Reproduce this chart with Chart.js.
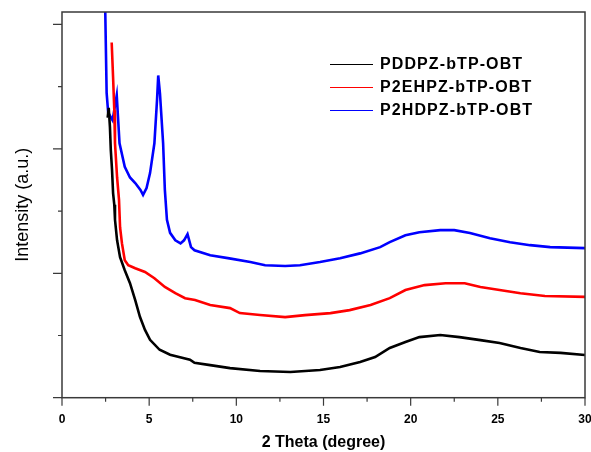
<!DOCTYPE html>
<html>
<head>
<meta charset="utf-8">
<script src="https://cdn.jsdelivr.net/npm/chart.js@4.4.1/dist/chart.umd.min.js"></script>
<style>
  html, body { margin: 0; padding: 0; background: #fff; }
  #wrap { width: 591px; height: 452px; }
</style>
</head>
<body>
<div id="wrap"><canvas id="grafico" width="591" height="452"></canvas></div>
<script>
// series names
const seriesNames = ['PDDPZ-bTP-OBT', 'P2EHPZ-bTP-OBT', 'P2HDPZ-bTP-OBT'];
const seriesColors = ['#000000', '#ff0000', '#0000ff'];

// values (2 theta, intensity)
const blackX = [2.62, 2.68, 2.75, 2.8, 2.87, 2.93, 3.0, 3.04, 3.16, 3.33, 3.6, 3.9, 4.2, 4.47, 4.76, 5.05, 5.6, 6.2, 6.77, 7.34, 7.6, 8.5, 9.64, 11.36, 13.1, 14.8, 15.95, 17.1, 17.96, 18.8, 19.7, 20.5, 21.7, 22.8, 24.0, 25.1, 26.3, 27.4, 28.6, 30];
const blackY = [2250, 2330, 2175, 1990, 1830, 1645, 1550, 1430, 1265, 1130, 1025, 920, 785, 650, 545, 465, 385, 345, 325, 305, 280, 262, 238, 214, 206, 222, 247, 287, 327, 400, 447, 487, 504, 487, 463, 440, 400, 367, 360, 343];

const redX = [2.85, 2.93, 3.0, 3.04, 3.16, 3.27, 3.33, 3.44, 3.6, 3.8, 4.2, 4.76, 5.3, 5.9, 6.5, 7.06, 7.63, 8.5, 9.64, 10.2, 11.36, 12.8, 13.94, 15.4, 16.5, 17.7, 18.8, 19.7, 20.8, 22.0, 23.1, 24.0, 25.1, 26.3, 27.7, 30];
const redY = [2855, 2575, 2310, 2045, 1770, 1590, 1370, 1240, 1105, 1065, 1040, 1010, 960, 890, 840, 800, 785, 745, 720, 680, 665, 648, 664, 680, 704, 745, 800, 865, 905, 920, 920, 890, 865, 840, 817, 810];

const blueX = [2.47, 2.56, 2.65, 2.9, 3.14, 3.3, 3.6, 3.9, 4.2, 4.5, 4.65, 4.85, 5.05, 5.3, 5.45, 5.52, 5.62, 5.8, 5.9, 6.02, 6.2, 6.5, 6.8, 7.0, 7.2, 7.4, 7.6, 8.5, 9.6, 10.8, 11.65, 12.8, 13.65, 14.8, 15.95, 17.1, 18.25, 18.8, 19.7, 20.5, 21.7, 22.5, 23.4, 24.55, 25.7, 26.85, 28.0, 30];
const blueY = [3200, 2450, 2290, 2230, 2430, 2045, 1855, 1770, 1725, 1670, 1630, 1685, 1805, 2045, 2390, 2590, 2445, 2045, 1670, 1430, 1325, 1265, 1240, 1265, 1315, 1210, 1185, 1145, 1120, 1090, 1065, 1058, 1065, 1090, 1120, 1160, 1210, 1250, 1305, 1330, 1347, 1347, 1323, 1282, 1250, 1226, 1210, 1202];

// axes
const xTicks = [0, 5, 10, 15, 20, 25, 30];
const xMinorTicks = [2.5, 7.5, 12.5, 17.5, 22.5, 27.5];
const yMajorTicks = [0, 1000, 2000, 3000];
const yMinorTicks = [500, 1500, 2500];

const FONTE = "'Liberation Sans', Arial, sans-serif";

function pontos(xs, ys) {
  return xs.map((x, i) => ({ x: x, y: ys[i] }));
}

// frame, tick marks and legend drawn over the chart
const molduraPlugin = {
  id: 'moldura',
  afterDraw(chart) {
    const ctx = chart.ctx;
    const a = chart.chartArea;
    const sx = chart.scales.x;
    const sy = chart.scales.y;
    ctx.save();
    ctx.strokeStyle = '#3a3a3a';
    ctx.lineWidth = 1.5;
    ctx.strokeRect(a.left, a.top, a.right - a.left, a.bottom - a.top);

    ctx.lineWidth = 1.2;
    ctx.beginPath();
    xTicks.forEach(v => {
      const px = sx.getPixelForValue(v);
      ctx.moveTo(px, a.bottom); ctx.lineTo(px, a.bottom + 8);
    });
    xMinorTicks.forEach(v => {
      const px = sx.getPixelForValue(v);
      ctx.moveTo(px, a.bottom); ctx.lineTo(px, a.bottom + 4);
    });
    yMajorTicks.forEach(v => {
      const py = sy.getPixelForValue(v);
      ctx.moveTo(a.left, py); ctx.lineTo(a.left - 9, py);
    });
    yMinorTicks.forEach(v => {
      const py = sy.getPixelForValue(v);
      ctx.moveTo(a.left, py); ctx.lineTo(a.left - 4, py);
    });
    ctx.stroke();

    // legend
    const linhas = [64, 87, 110];
    ctx.font = 'bold 16px ' + FONTE;
    ctx.textBaseline = 'middle';
    ctx.textAlign = 'left';
    if ('letterSpacing' in ctx) ctx.letterSpacing = '1.1px';
    seriesNames.forEach((nome, i) => {
      ctx.strokeStyle = seriesColors[i];
      ctx.lineWidth = 1;
      ctx.beginPath();
      ctx.moveTo(330, linhas[i] + 0.5);
      ctx.lineTo(373, linhas[i] + 0.5);
      ctx.stroke();
      ctx.fillStyle = '#000';
      ctx.fillText(nome, 380, linhas[i] + 1);
    });
    ctx.restore();
  }
};

const ctx = document.getElementById('grafico').getContext('2d');

const dados = {
  datasets: [
    { label: seriesNames[0], data: pontos(blackX, blackY), borderColor: seriesColors[0] },
    { label: seriesNames[1], data: pontos(redX, redY), borderColor: seriesColors[1] },
    { label: seriesNames[2], data: pontos(blueX, blueY), borderColor: seriesColors[2] }
  ].map(d => Object.assign(d, { borderWidth: 2.6, pointRadius: 0, tension: 0, fill: false }))
};

const config = {
  type: 'line',
  data: dados,
  options: {
    responsive: false,
    animation: false,
    layout: { padding: { top: 12, right: 6, left: 0, bottom: 0 } },
    scales: {
      x: {
        type: 'linear',
        min: 0,
        max: 30,
        afterFit: (s) => { s.height = 54.3; s.paddingRight = 0; s.paddingLeft = 0; },
        afterBuildTicks: (s) => { s.ticks = xTicks.map(v => ({ value: v })); },
        grid: { display: false },
        border: { display: false },
        ticks: {
          padding: 7,
          color: '#000',
          font: { family: FONTE, size: 12, weight: 'bold' },
          maxRotation: 0
        },
        title: {
          display: true,
          text: '2 Theta (degree)',
          color: '#000',
          font: { family: FONTE, size: 16, weight: 'bold' },
          padding: { top: 0, bottom: 0 }
        }
      },
      y: {
        min: 0,
        max: 3100,
        afterFit: (s) => { s.width = 62; },
        grid: { display: false },
        border: { display: false },
        ticks: { display: false },
        title: {
          display: true,
          text: 'Intensity (a.u.)',
          color: '#000',
          font: { family: FONTE, size: 18, weight: 'normal' },
          padding: { top: 12, bottom: 0 }
        }
      }
    },
    plugins: {
      legend: { display: false },
      tooltip: { enabled: false }
    }
  },
  plugins: [molduraPlugin]
};

window._grafico = new Chart(ctx, config);
</script>
</body>
</html>
